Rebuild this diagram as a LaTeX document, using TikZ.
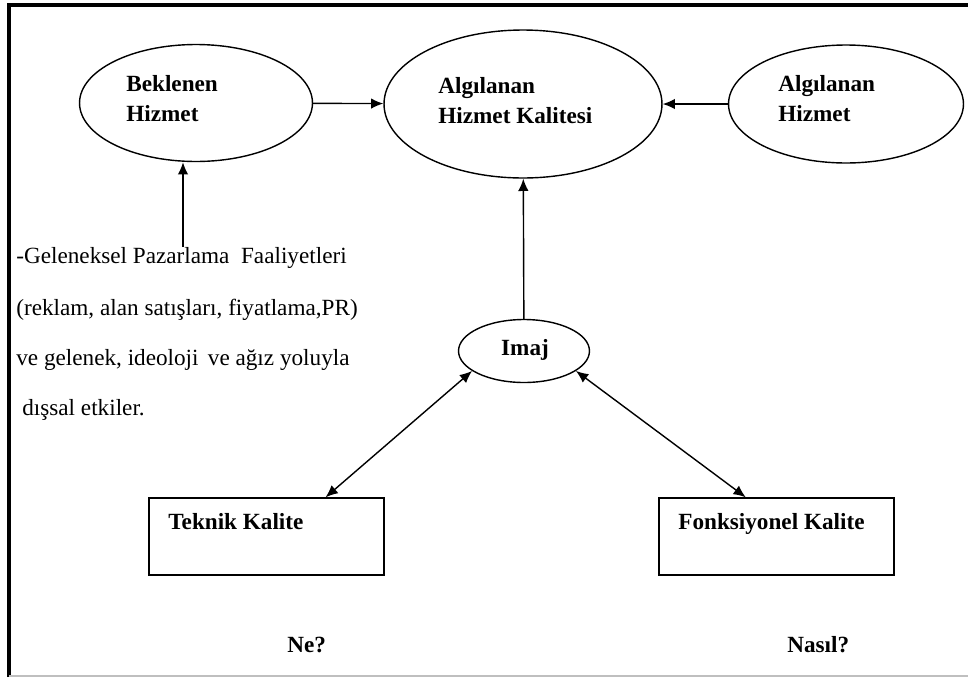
\documentclass[tikz,border=0pt]{standalone}
\usepackage{fontspec}
\setmainfont{Liberation Serif}
\usetikzlibrary{shapes.geometric, arrows.meta, calc}

\begin{document}
\begin{tikzpicture}[x=0.02cm, y=-0.02cm,
  font=\fontsize{13.2}{16}\selectfont,
  oval/.style={draw, ellipse, line width=0.8pt, inner sep=0pt},
  kutu/.style={draw, rectangle, line width=0.8pt, inner sep=0pt, minimum width=4.7cm, minimum height=1.54cm},
  etiket/.style={anchor=base west, inner sep=0pt, font=\fontsize{13.2}{16}\selectfont\bfseries},
  yazi/.style={anchor=base west, inner sep=0pt},
  ok/.style={-{Latex[length=7pt,width=6pt]}, line width=0.8pt},
  ikiok/.style={{Latex[length=7pt,width=6pt]}-{Latex[length=7pt,width=6pt]}, line width=0.8pt}]
\useasboundingbox (0,0) rectangle (968,677);
% cerceve
\draw[line width=2pt] (9,677) -- (9,5) -- (968,5);
\draw[gray!50, line width=0.8pt] (9,676) -- (968,676);

% ust sira
\node[oval, minimum width=4.66cm, minimum height=2.34cm] (bek) at (196,103) {};
\node[oval, minimum width=5.56cm, minimum height=2.96cm] (alg) at (523,104) {};
\node[oval, minimum width=4.7cm, minimum height=2.36cm] (algh) at (846,104) {};
\node[etiket] (bek1) at (126,91) {Beklenen};
\node[etiket] (bek2) at (126,121) {Hizmet};
\node[etiket] (alg1) at (438,93) {Algılanan};
\node[etiket] (alg2) at (438,123) {Hizmet Kalitesi};
\node[etiket] (algh1) at (778,91) {Algılanan};
\node[etiket] (algh2) at (778,121) {Hizmet};

% imaj ve kutular
\node[oval, minimum width=2.62cm, minimum height=1.26cm] (imaj) at (524,351) {};
\node[etiket, anchor=base] (imajyazi) at (525,355) {Imaj};
\node[kutu] (tek) at (266.5,536.5) {};
\node[kutu] (fonk) at (776.5,536.5) {};
\node[etiket] (tekyazi) at (168,529) {Teknik Kalite};
\node[etiket] (fonkyazi) at (678,529) {Fonksiyonel Kalite};
\node[etiket] (ne) at (287,652) {Ne?};
\node[etiket] (nasil) at (787,652) {Nasıl?};

% sol metin
\node[yazi] (gel1) at (16,263) {-Geleneksel Pazarlama\hspace{0.5em}Faaliyetleri};
\node[yazi] (gel2) at (16,315) {(reklam, alan satışları, fiyatlama,PR)};
\node[yazi] (gel3) at (16,365) {ve gelenek, ideoloji\hspace{0.4em}ve ağız yoluyla};
\node[yazi] (gel4) at (22,415) {dışsal etkiler.};
\coordinate (gel) at (183,247);

% oklar
\draw[ok] (bek) -- (alg);
\draw[ok] (algh) -- (alg);
\draw[ok] (imaj) -- (alg);
\draw[ok] (gel) -- (gel |- bek.south);
\draw[ikiok] (imaj.201) -- ($(tek.north west)!0.75!(tek.north east)$);
\draw[ikiok] (imaj.339) -- ($(fonk.north west)!0.37!(fonk.north east)$);
\end{tikzpicture}
\end{document}
